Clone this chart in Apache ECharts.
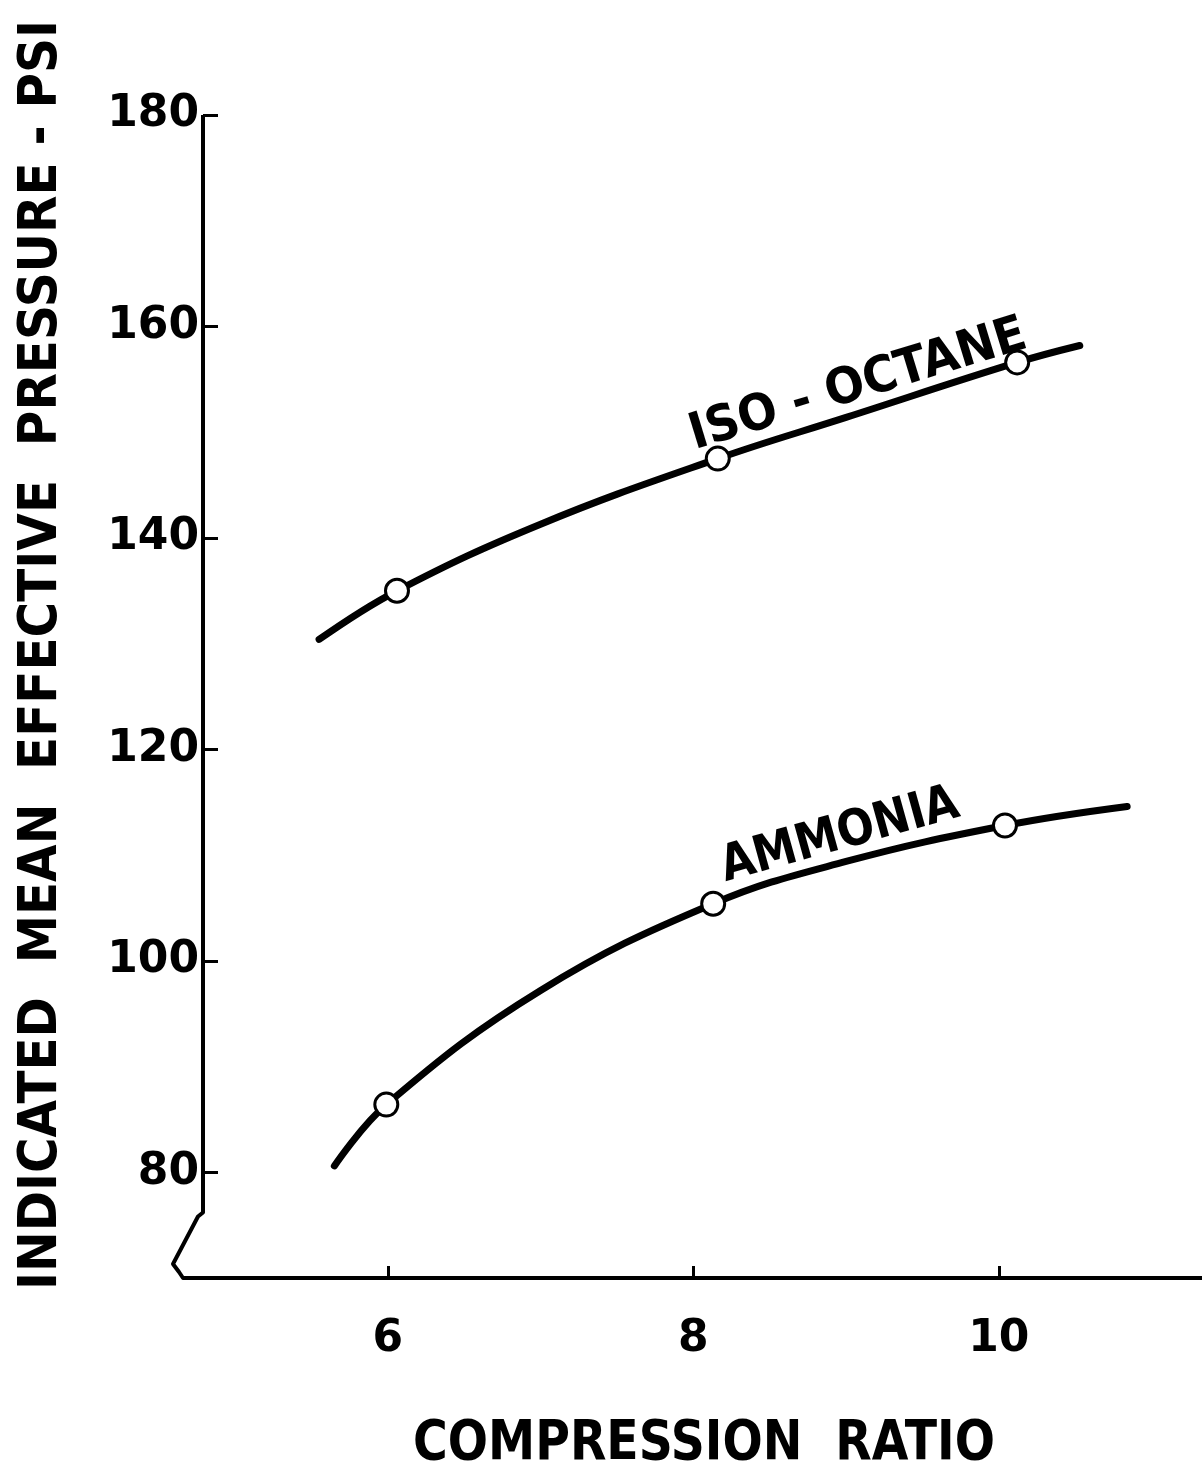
<!DOCTYPE html>
<html>
<head>
<meta charset="utf-8">
<title>IMEP vs Compression Ratio</title>
<script src="https://cdn.jsdelivr.net/npm/echarts@6/dist/echarts.min.js"></script>
<style>
  html, body { margin: 0; padding: 0; background: #fff; }
  #chart { width: 1202px; height: 1484px; }
</style>
</head>
<body>
<div id="chart"></div>
<script>
// Tick values on both axes
const ratioTicks = [6, 8, 10];
const imepTicks = [80, 100, 120, 140, 160, 180];

// Measured points (open circles)
const isoRatio = [6.06, 8.16, 10.12];
const isoImep = [135.0, 147.5, 156.6];
const ammoniaRatio = [5.99, 8.13, 10.04];
const ammoniaImep = [86.4, 105.4, 112.8];

// Faired curves through the measured points
const isoCurveRatio = [5.55, 6.06, 7.0, 8.16, 9.0, 10.12, 10.53];
const isoCurveImep = [130.4, 135.0, 141.3, 147.5, 151.4, 156.6, 158.2];
const ammoniaCurveRatio = [5.65, 5.99, 7.0, 8.13, 9.0, 10.04, 10.84];
const ammoniaCurveImep = [80.6, 86.4, 97.2, 105.4, 109.4, 112.8, 114.6];

const FONT = '"DejaVu Sans", "Liberation Sans", sans-serif';
const INK = '#000';

const zip = (xs, ys) => xs.map((x, i) => [x, ys[i]]);

const X_MIN = 4.79, X_MAX = 11.33, Y_MIN = 70, Y_MAX = 180;

const chart = echarts.init(document.getElementById('chart'), null, { renderer: 'canvas' });

const openCircle = {
  type: 'scatter',
  symbol: 'circle',
  symbolSize: 23,
  itemStyle: { color: '#fff', borderColor: INK, borderWidth: 3, opacity: 1 },
  emphasis: { disabled: true },
  z: 3
};

chart.setOption({
  backgroundColor: '#fff',
  animation: false,
  grid: { left: 203, right: 0, top: 115, bottom: 206 },
  xAxis: {
    type: 'value',
    min: X_MIN,
    max: X_MAX,
    splitLine: { show: false },
    axisLine: { show: true, lineStyle: { color: INK, width: 4 } },
    axisTick: {
      show: true, inside: true, length: 12,
      customValues: ratioTicks,
      lineStyle: { color: INK, width: 3 }
    },
    axisLabel: {
      customValues: ratioTicks,
      margin: 40,
      color: INK,
      fontFamily: FONT,
      fontWeight: 'bold',
      fontSize: 44
    }
  },
  yAxis: {
    type: 'value',
    min: Y_MIN,
    max: Y_MAX,
    splitLine: { show: false },
    axisLine: { show: false },
    axisTick: {
      show: true, inside: true, length: 15,
      customValues: imepTicks,
      lineStyle: { color: INK, width: 3 }
    },
    axisLabel: {
      customValues: imepTicks,
      margin: 4,
      color: INK,
      fontFamily: FONT,
      fontWeight: 'bold',
      fontSize: 44
    }
  },
  series: [
    {
      name: 'ISO-OCTANE curve',
      type: 'line',
      data: zip(isoCurveRatio, isoCurveImep),
      smooth: 0.4,
      showSymbol: false,
      lineStyle: { color: INK, width: 7, cap: 'round' },
      emphasis: { disabled: true },
      z: 2
    },
    {
      name: 'AMMONIA curve',
      type: 'line',
      data: zip(ammoniaCurveRatio, ammoniaCurveImep),
      smooth: 0.4,
      showSymbol: false,
      lineStyle: { color: INK, width: 7, cap: 'round' },
      emphasis: { disabled: true },
      z: 2
    },
    Object.assign({ name: 'ISO-OCTANE', data: zip(isoRatio, isoImep) }, openCircle),
    Object.assign({ name: 'AMMONIA', data: zip(ammoniaRatio, ammoniaImep) }, openCircle)
  ]
});

// Horizontal squeeze factor so a string spans a given length
const measureCtx = document.createElement('canvas').getContext('2d');
function squeeze(text, size, weight, length) {
  measureCtx.font = weight + ' ' + size + 'px ' + FONT;
  return length / measureCtx.measureText(text).width;
}

function bigText(text, x, y, size, length, rotationDeg) {
  const s = squeeze(text, size, 'bold', length);
  return {
    type: 'text',
    x: x, y: y,
    rotation: rotationDeg * Math.PI / 180,
    scaleX: s,
    style: {
      text: text,
      fill: INK,
      font: 'bold ' + size + 'px ' + FONT,
      align: 'center',
      verticalAlign: 'middle'
    },
    z: 10
  };
}

// Axis line with the broken-scale zigzag near the origin
const axisTop = chart.convertToPixel({ gridIndex: 0 }, [X_MIN, Y_MAX]);
const origin = chart.convertToPixel({ gridIndex: 0 }, [X_MIN, Y_MIN]);
const breakStart = chart.convertToPixel({ gridIndex: 0 }, [X_MIN, 76.2]);

const isoLabelAt = chart.convertToPixel({ gridIndex: 0 }, [9.08, 154.4]);
const ammoniaLabelAt = chart.convertToPixel({ gridIndex: 0 }, [8.96, 111.8]);

chart.setOption({
  graphic: [
    {
      type: 'polyline',
      shape: {
        points: [
          [axisTop[0], axisTop[1]],
          [breakStart[0], breakStart[1]],
          [breakStart[0] - 5, breakStart[1] + 4],
          [origin[0] - 30, origin[1] - 14],
          [origin[0] - 24, origin[1] - 6],
          [origin[0] - 20, origin[1]],
          [origin[0], origin[1]]
        ]
      },
      style: { stroke: INK, lineWidth: 4, fill: null, lineJoin: 'round' },
      z: 5
    },
    bigText('INDICATED  MEAN  EFFECTIVE  PRESSURE - PSI', 42, 655, 54, 1270, 90),
    bigText('COMPRESSION  RATIO', 704, 1445, 55, 582, 0),
    bigText('ISO - OCTANE', isoLabelAt[0], isoLabelAt[1], 50, 350, 17),
    bigText('AMMONIA', ammoniaLabelAt[0], ammoniaLabelAt[1], 50, 245, 15.5)
  ]
});
</script>
</body>
</html>
